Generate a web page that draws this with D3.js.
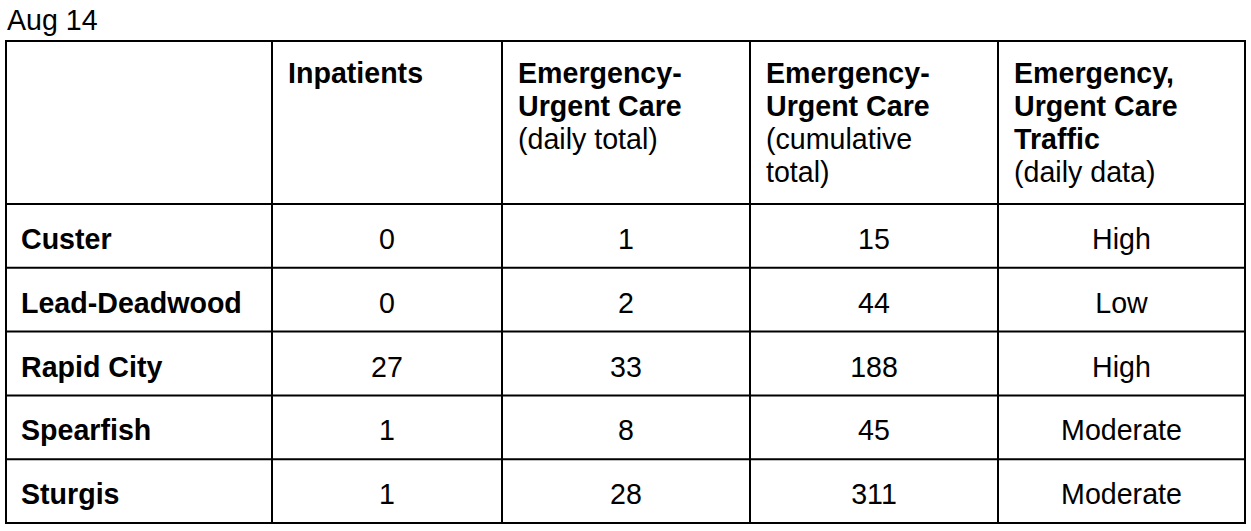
<!DOCTYPE html>
<html>
<head>
<meta charset="utf-8">
<title>Aug 14</title>
<script src="https://d3js.org/d3.v7.min.js"></script>
<style>
body {
    margin: 0;
    background-color: #fff;
}
text {
    font-family: "Liberation Sans", Arial, Helvetica, sans-serif;
    font-size: 28.6px;
    fill: #000;
}
.bold { font-weight: bold; }
</style>
</head>
<body>
<div id="table"></div>

<script type="text/javascript">
// data
var dateLabel = "Aug 14";
var counties = ["Custer", "Lead-Deadwood", "Rapid City", "Spearfish", "Sturgis"];
var inpatients = [0, 0, 27, 1, 1];
var erDaily = [1, 2, 33, 8, 28];
var erCumulative = [15, 44, 188, 45, 311];
var traffic = ["High", "Low", "High", "Moderate", "Moderate"];

// header text: bold lines then regular lines
var headBold = [[], ["Inpatients"], ["Emergency-", "Urgent Care"], ["Emergency-", "Urgent Care"], ["Emergency,", "Urgent Care", "Traffic"]];
var headPlain = [[], [], ["(daily total)"], ["(cumulative", "total)"], ["(daily data)"]];

var W = 1251, H = 531;
var tableTop = 41, headBottom = 204, tableBottom = 523;
var colKeys = ["name", "inp", "daily", "cum", "traffic"];
var columns = [counties, inpatients, erDaily, erCumulative, traffic];

var colLeft = d3.scaleOrdinal().domain(colKeys.concat(["end"])).range([6, 272, 502, 750, 998, 1245]);
var colNext = function (k) { return colLeft(colKeys[colKeys.indexOf(k) + 1] || "end"); };
var y = d3.scaleBand().domain(counties).range([headBottom, tableBottom]);

var svg = d3.select("#table").append("svg")
    .attr("width", W)
    .attr("height", H);

svg.append("text")
    .attr("x", 7)
    .attr("y", 30)
    .text(dateLabel);

// grid lines
var grid = svg.append("g")
    .style("stroke", "#000")
    .style("stroke-width", 2);
grid.append("rect")
    .attr("x", colLeft("name"))
    .attr("y", tableTop)
    .attr("width", colLeft("end") - colLeft("name"))
    .attr("height", tableBottom - tableTop)
    .style("fill", "none");
grid.selectAll("line.v")
    .data(colKeys.slice(1))
    .enter().append("line")
    .attr("class", "v")
    .attr("x1", function (k) { return colLeft(k); })
    .attr("x2", function (k) { return colLeft(k); })
    .attr("y1", tableTop)
    .attr("y2", tableBottom);
grid.selectAll("line.h")
    .data(counties)
    .enter().append("line")
    .attr("class", "h")
    .attr("x1", colLeft("name"))
    .attr("x2", colLeft("end"))
    .attr("y1", function (d) { return y(d); })
    .attr("y2", function (d) { return y(d); });

// header
var lineH = 33;
colKeys.forEach(function (k, i) {
    var lines = headBold[i].map(function (t) { return { t: t, b: true }; })
        .concat(headPlain[i].map(function (t) { return { t: t, b: false }; }));
    svg.selectAll("text.h" + i)
        .data(lines)
        .enter().append("text")
        .attr("class", function (d) { return "h" + i + (d.b ? " bold" : ""); })
        .attr("x", colLeft(k) + 16)
        .attr("y", function (d, j) { return tableTop + 42 + j * lineH; })
        .text(function (d) { return d.t; });
});

// body
columns.forEach(function (vals, i) {
    var k = colKeys[i];
    svg.selectAll("text.c" + i)
        .data(vals)
        .enter().append("text")
        .attr("class", "c" + i + (i === 0 ? " bold" : ""))
        .attr("x", i === 0 ? colLeft(k) + 15 : (colLeft(k) + colNext(k)) / 2)
        .attr("y", function (d, j) { return y(counties[j]) + 45; })
        .style("text-anchor", i === 0 ? "start" : "middle")
        .text(function (d) { return d; });
});
</script>
</body>
</html>
